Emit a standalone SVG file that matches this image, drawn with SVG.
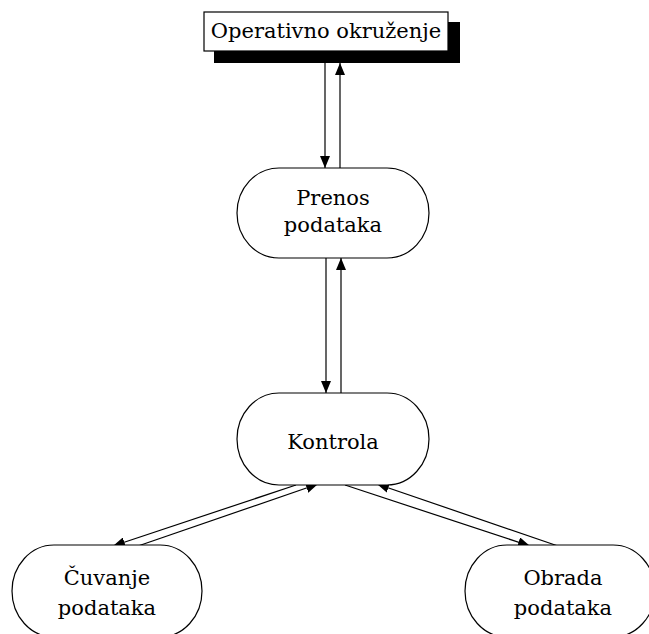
<svg xmlns="http://www.w3.org/2000/svg" width="649" height="634" viewBox="0 0 649 634">
<style>
.node{fill:#fff;stroke:#000;stroke-width:1.2}
.lbl{font-family:"DejaVu Serif","Liberation Serif",serif;font-size:21px;fill:#000;text-anchor:middle}
.edge{stroke:#000;stroke-width:1.2;fill:none;marker-end:url(#ah)}
</style>
<defs>
<marker id="ah" viewBox="0 0 12 10" refX="12" refY="5" markerWidth="12" markerHeight="10" markerUnits="userSpaceOnUse" orient="auto">
<path d="M0,0 L12,5 L0,10 Z" fill="#000"/>
</marker>
</defs>
<rect width="649" height="634" fill="#fff"/>
<g id="connectors">
<line class="edge" x1="325" y1="62" x2="325" y2="168"/>
<line class="edge" x1="340" y1="168" x2="340" y2="63"/>
<line class="edge" x1="326" y1="258" x2="326" y2="393"/>
<line class="edge" x1="341" y1="393" x2="341" y2="258"/>
<line class="edge" x1="296" y1="485" x2="113" y2="546"/>
<line class="edge" x1="138" y1="546" x2="318" y2="484"/>
<line class="edge" x1="345" y1="485" x2="530" y2="546"/>
<line class="edge" x1="558" y1="546" x2="377" y2="484"/>
</g>
<g id="operativno">
<rect x="214" y="22" width="246" height="41" fill="#000"/>
<rect class="node" x="204" y="12" width="244" height="39"/>
<text class="lbl" x="326" y="38">Operativno okruženje</text>
</g>
<g id="prenos">
<rect class="node" x="237" y="168" width="192" height="90" rx="42" ry="45"/>
<text class="lbl" x="333" y="205">Prenos</text>
<text class="lbl" x="333" y="232">podataka</text>
</g>
<g id="kontrola">
<rect class="node" x="237" y="393" width="192" height="92" rx="42" ry="46"/>
<text class="lbl" x="333" y="449">Kontrola</text>
</g>
<g id="cuvanje">
<rect class="node" x="12" y="545" width="190" height="92" rx="42" ry="46"/>
<text class="lbl" x="107" y="585">Čuvanje</text>
<text class="lbl" x="107" y="615">podataka</text>
</g>
<g id="obrada">
<rect class="node" x="465" y="545" width="190" height="92" rx="42" ry="46"/>
<text class="lbl" x="563" y="585">Obrada</text>
<text class="lbl" x="563" y="615">podataka</text>
</g>
</svg>
